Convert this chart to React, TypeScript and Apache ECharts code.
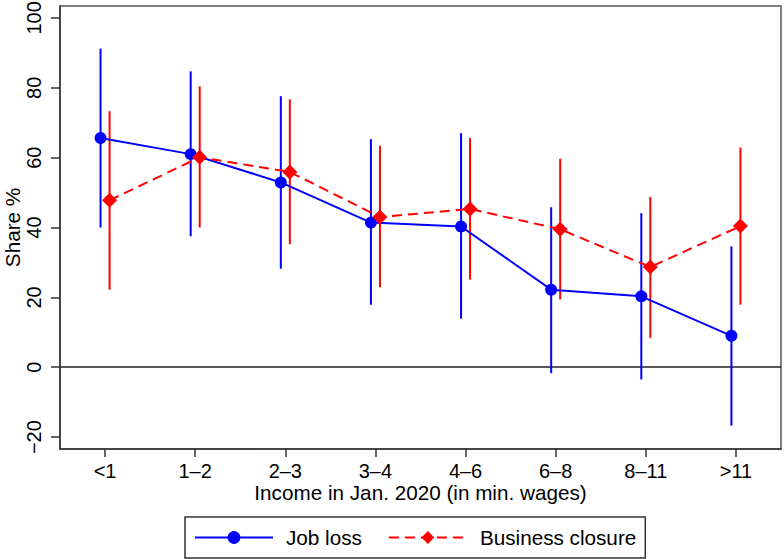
import React, { useEffect, useRef } from "react";
import * as echarts from "echarts";

const categories = ["<1", "1–2", "2–3", "3–4", "4–6", "6–8", "8–11", ">11"];
const jobLoss = [65.6, 61.0, 52.9, 41.4, 40.3, 22.2, 20.3, 9.0];
const jobLossLo = [40.0, 37.5, 28.2, 17.9, 13.9, -1.7, -3.5, -16.7];
const jobLossHi = [91.2, 84.7, 77.6, 65.3, 67.0, 45.8, 44.1, 34.6];
const closure = [47.8, 60.1, 55.9, 43.0, 45.3, 39.5, 28.7, 40.4];
const closureLo = [22.2, 40.0, 35.2, 22.9, 25.1, 19.4, 8.4, 17.9];
const closureHi = [73.3, 80.4, 76.7, 63.4, 65.6, 59.7, 48.7, 62.9];
const yTicks = [-20, 0, 20, 40, 60, 80, 100];
const yMin = -23.4;
const yMax = 103.4;

const FONT = "Liberation Sans";
const BLUE = "#0000FF";
const RED = "#FF0000";
const SHIFT = 0.05;

function errorBars(lo: number[], hi: number[], shift: number, color: string, name: string) {
  return {
    type: "custom",
    name,
    xAxisIndex: 1,
    yAxisIndex: 0,
    silent: true,
    z: 2,
    encode: { x: 0, y: [1, 2] },
    data: lo.map((l, i) => [i + shift, l, hi[i]]),
    renderItem: (params: any, api: any) => {
      const x = api.value(0);
      const p1 = api.coord([x, api.value(1)]);
      const p2 = api.coord([x, api.value(2)]);
      return {
        type: "line",
        shape: { x1: p1[0], y1: p1[1], x2: p2[0], y2: p2[1] },
        style: { stroke: color, lineWidth: 2 },
      };
    },
  };
}

export default function App() {
  const ref = useRef<HTMLDivElement>(null);
  useEffect(() => {
    if (!ref.current) return;
    const chart = echarts.init(ref.current, undefined, { renderer: "svg" });
    const option: any = {
      animation: false,
      backgroundColor: "#fff",
      textStyle: { fontFamily: FONT },
      grid: {
        left: 60,
        top: 6,
        right: 3,
        bottom: 110,
        show: true,
        borderColor: "#555",
        borderWidth: 1.5,
        containLabel: false,
        outerBoundsMode: "none",
      },
      legend: {
        data: ["Job loss", "Business closure"],
        left: 185,
        top: 517,
        padding: [10, 9, 10, 9],
        borderColor: "#333",
        borderWidth: 1.5,
        itemWidth: 78,
        itemHeight: 16,
        itemGap: 26,
        textStyle: { fontFamily: FONT, fontSize: 20.7, color: "#000", padding: [0, 0, 0, 8] },
      },
      xAxis: [
        {
          type: "category",
          data: categories,
          boundaryGap: true,
          name: "Income in Jan. 2020 (in min. wages)",
          nameLocation: "middle",
          nameGap: 33,
          nameMoveOverlap: false,
          nameTextStyle: { fontFamily: FONT, fontSize: 20.7, color: "#000" },
          axisLine: { show: true, onZero: false, lineStyle: { color: "#333", width: 1.5 } },
          axisTick: { show: true, alignWithLabel: true, length: 8, lineStyle: { color: "#333", width: 1.5 } },
          axisLabel: { fontFamily: FONT, fontSize: 20, color: "#000", margin: 12 },
          splitLine: { show: false },
        },
        {
          type: "value",
          min: -0.5,
          max: 7.5,
          show: false,
          axisLine: { onZero: false },
          splitLine: { show: false },
        },
      ],
      yAxis: {
        type: "value",
        min: yMin,
        max: yMax,
        name: "Share %",
        nameLocation: "middle",
        nameRotate: 90,
        nameGap: 37,
        nameMoveOverlap: false,
        nameTextStyle: { fontFamily: FONT, fontSize: 20.7, color: "#000" },
        axisLine: { show: true, onZero: false, lineStyle: { color: "#333", width: 1.5 } },
        axisTick: { show: true, length: 9, customValues: yTicks, lineStyle: { color: "#333", width: 1.5 } },
        axisLabel: {
          fontFamily: FONT,
          fontSize: 20,
          color: "#000",
          rotate: 90,
          margin: 16,
          customValues: yTicks,
          formatter: (v: number) => String(v).replace("-", "−"),
        },
        splitLine: { show: false },
      },
      series: [
        errorBars(jobLossLo, jobLossHi, -SHIFT, BLUE, "Job loss CI"),
        errorBars(closureLo, closureHi, SHIFT, RED, "Business closure CI"),
        {
          type: "line",
          name: "Job loss",
          xAxisIndex: 1,
          data: jobLoss.map((v, i) => [i - SHIFT, v]),
          symbol: "circle",
          symbolSize: 12,
          itemStyle: { color: BLUE },
          lineStyle: { color: BLUE, width: 2 },
          z: 3,
          markLine: {
            silent: true,
            symbol: "none",
            label: { show: false },
            lineStyle: { color: "#222", width: 1.5, type: "solid" },
            data: [{ yAxis: 0 }],
            z: 1,
          },
        },
        {
          type: "line",
          name: "Business closure",
          xAxisIndex: 1,
          data: closure.map((v, i) => [i + SHIFT, v]),
          symbol: "diamond",
          symbolSize: 15,
          itemStyle: { color: RED },
          lineStyle: { color: RED, width: 2, type: [10, 6] },
          z: 4,
        },
      ],
    };
    chart.setOption(option);
    return () => chart.dispose();
  }, []);
  return (
    <div
      ref={ref}
      style={{ position: "fixed", left: 0, top: 0, width: 784, height: 559 }}
    />
  );
}
